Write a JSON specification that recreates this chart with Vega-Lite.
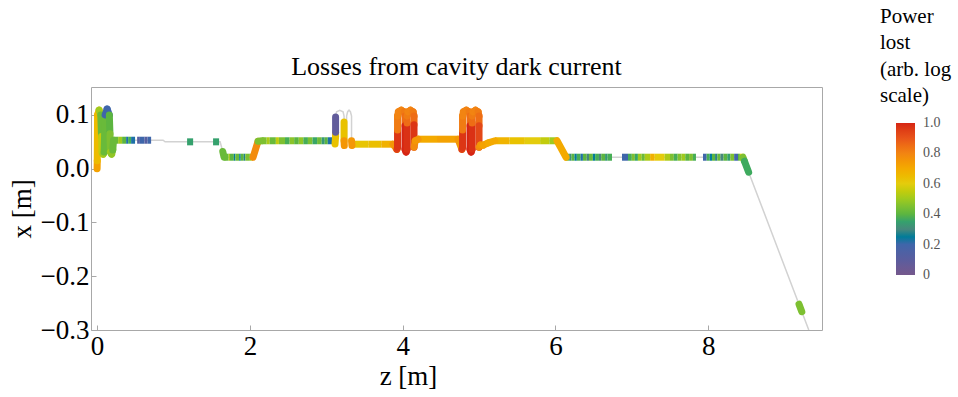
{
  "$schema": "https://vega.github.io/schema/vega-lite/v6.json",
  "width": 731,
  "height": 243,
  "autosize": "none",
  "padding": {"left": 91, "top": 87, "right": 136, "bottom": 67},
  "background": "white",
  "title": {"text": "Losses from cavity dark current", "frame": "group", "font": "Liberation Serif", "fontSize": 26, "fontWeight": "normal", "color": "black", "offset": 8, "dy": 82},
  "config": {"view": {"stroke": "#a8a8a8", "strokeWidth": 1}},
  "datasets": {
    "path": [
      {"i":0,"z":0.000,"x":0.000},{"i":1,"z":0.003,"x":0.060},{"i":2,"z":0.006,"x":0.100},{"i":3,"z":0.026,"x":0.109},
      {"i":4,"z":0.048,"x":0.100},{"i":5,"z":0.058,"x":0.060},{"i":6,"z":0.065,"x":0.031},{"i":7,"z":0.079,"x":0.027},
      {"i":8,"z":0.092,"x":0.031},{"i":9,"z":0.105,"x":0.100},{"i":10,"z":0.131,"x":0.111},{"i":11,"z":0.160,"x":0.100},
      {"i":12,"z":0.175,"x":0.031},{"i":13,"z":0.190,"x":0.027},{"i":14,"z":0.205,"x":0.035},{"i":15,"z":0.215,"x":0.053},
      {"i":16,"z":0.864,"x":0.053},{"i":17,"z":0.890,"x":0.050},{"i":18,"z":1.610,"x":0.050},{"i":19,"z":1.645,"x":0.032},
      {"i":20,"z":1.662,"x":0.0214},{"i":21,"z":2.042,"x":0.0214},{"i":22,"z":2.107,"x":0.051},{"i":23,"z":2.160,"x":0.052},
      {"i":24,"z":3.089,"x":0.052},{"i":25,"z":3.115,"x":0.048},{"i":26,"z":3.122,"x":0.060},{"i":27,"z":3.122,"x":0.098},
      {"i":28,"z":3.135,"x":0.106},{"i":29,"z":3.177,"x":0.1088},{"i":30,"z":3.220,"x":0.106},{"i":31,"z":3.233,"x":0.098},
      {"i":32,"z":3.233,"x":0.049},{"i":33,"z":3.250,"x":0.044},{"i":34,"z":3.266,"x":0.049},{"i":35,"z":3.266,"x":0.098},
      {"i":36,"z":3.280,"x":0.106},{"i":37,"z":3.298,"x":0.1088},{"i":38,"z":3.316,"x":0.106},{"i":39,"z":3.331,"x":0.098},
      {"i":40,"z":3.331,"x":0.049},{"i":41,"z":3.351,"x":0.0456},{"i":42,"z":3.874,"x":0.0456},
      {"i":43,"z":3.925,"x":0.036},{"i":44,"z":3.933,"x":0.040},{"i":45,"z":3.933,"x":0.098},{"i":46,"z":3.945,"x":0.106},
      {"i":47,"z":3.983,"x":0.1088},{"i":48,"z":4.020,"x":0.106},{"i":49,"z":4.031,"x":0.098},{"i":50,"z":4.031,"x":0.036},
      {"i":51,"z":4.045,"x":0.031},{"i":52,"z":4.058,"x":0.036},{"i":53,"z":4.058,"x":0.098},{"i":54,"z":4.070,"x":0.106},
      {"i":55,"z":4.103,"x":0.1088},{"i":56,"z":4.137,"x":0.106},{"i":57,"z":4.149,"x":0.098},{"i":58,"z":4.149,"x":0.040},
      {"i":59,"z":4.165,"x":0.052},{"i":60,"z":4.202,"x":0.0549},{"i":61,"z":4.725,"x":0.0549},
      {"i":62,"z":4.776,"x":0.036},{"i":63,"z":4.784,"x":0.040},{"i":64,"z":4.784,"x":0.098},{"i":65,"z":4.796,"x":0.106},
      {"i":66,"z":4.834,"x":0.1088},{"i":67,"z":4.871,"x":0.106},{"i":68,"z":4.882,"x":0.098},{"i":69,"z":4.882,"x":0.036},
      {"i":70,"z":4.896,"x":0.031},{"i":71,"z":4.909,"x":0.036},{"i":72,"z":4.909,"x":0.098},{"i":73,"z":4.921,"x":0.106},
      {"i":74,"z":4.954,"x":0.1088},{"i":75,"z":4.988,"x":0.106},{"i":76,"z":5.000,"x":0.098},{"i":77,"z":5.000,"x":0.040},
      {"i":78,"z":5.020,"x":0.044},{"i":79,"z":5.052,"x":0.0437},{"i":80,"z":5.120,"x":0.048},{"i":81,"z":5.209,"x":0.052},
      {"i":82,"z":6.021,"x":0.052},{"i":83,"z":6.139,"x":0.0214},{"i":84,"z":8.455,"x":0.0214},{"i":85,"z":9.317,"x":-0.300}
    ],
    "seg": [
      {"z":0.000,"x":0.000,"z2":0.002,"x2":0.015,"p":0.72},
      {"z":0.002,"x":0.015,"z2":0.006,"x2":0.100,"p":0.65},
      {"z":0.006,"x":0.100,"z2":0.026,"x2":0.109,"p":0.66},
      {"z":0.026,"x":0.109,"z2":0.048,"x2":0.100,"p":0.5},
      {"z":0.048,"x":0.100,"z2":0.058,"x2":0.060,"p":0.42},
      {"z":0.058,"x":0.060,"z2":0.065,"x2":0.031,"p":0.55},
      {"z":0.065,"x":0.031,"z2":0.079,"x2":0.027,"p":0.55},
      {"z":0.079,"x":0.027,"z2":0.092,"x2":0.031,"p":0.5},
      {"z":0.092,"x":0.031,"z2":0.105,"x2":0.100,"p":0.42},
      {"z":0.105,"x":0.100,"z2":0.131,"x2":0.111,"p":0.2},
      {"z":0.131,"x":0.111,"z2":0.160,"x2":0.100,"p":0.2},
      {"z":0.160,"x":0.100,"z2":0.168,"x2":0.065,"p":0.4},
      {"z":0.168,"x":0.065,"z2":0.175,"x2":0.031,"p":0.45},
      {"z":0.175,"x":0.031,"z2":0.190,"x2":0.027,"p":0.5},
      {"z":0.190,"x":0.027,"z2":0.205,"x2":0.035,"p":0.48},
      {"z":0.205,"x":0.035,"z2":0.215,"x2":0.053,"p":0.42},
      {"z":0.215,"x":0.053,"z2":0.275,"x2":0.053,"p":0.42},
      {"z":0.275,"x":0.053,"z2":0.327,"x2":0.053,"p":0.5},
      {"z":0.327,"x":0.053,"z2":0.380,"x2":0.053,"p":0.4},
      {"z":0.380,"x":0.053,"z2":0.406,"x2":0.053,"p":0.22},
      {"z":0.406,"x":0.053,"z2":0.445,"x2":0.053,"p":0.38},
      {"z":0.445,"x":0.053,"z2":0.497,"x2":0.053,"p":0.22},
      {"z":0.524,"x":0.053,"z2":0.560,"x2":0.053,"p":0.12},
      {"z":0.560,"x":0.053,"z2":0.620,"x2":0.053,"p":0.2},
      {"z":0.620,"x":0.053,"z2":0.660,"x2":0.053,"p":0.12},
      {"z":0.660,"x":0.053,"z2":0.707,"x2":0.053,"p":0.2},
      {"z":1.178,"x":0.050,"z2":1.257,"x2":0.050,"p":0.35},
      {"z":1.518,"x":0.050,"z2":1.597,"x2":0.050,"p":0.35},
      {"z":1.645,"x":0.032,"z2":1.662,"x2":0.0214,"p":0.42},
      {"z":1.662,"x":0.0214,"z2":1.720,"x2":0.0214,"p":0.42},
      {"z":1.720,"x":0.0214,"z2":1.740,"x2":0.0214,"p":0.5},
      {"z":1.740,"x":0.0214,"z2":1.790,"x2":0.0214,"p":0.4},
      {"z":1.790,"x":0.0214,"z2":1.810,"x2":0.0214,"p":0.25},
      {"z":1.810,"x":0.0214,"z2":1.860,"x2":0.0214,"p":0.42},
      {"z":1.860,"x":0.0214,"z2":1.880,"x2":0.0214,"p":0.25},
      {"z":1.880,"x":0.0214,"z2":1.920,"x2":0.0214,"p":0.4},
      {"z":1.920,"x":0.0214,"z2":1.940,"x2":0.0214,"p":0.27},
      {"z":1.940,"x":0.0214,"z2":2.000,"x2":0.0214,"p":0.45},
      {"z":2.000,"x":0.0214,"z2":2.025,"x2":0.0214,"p":0.5},
      {"z":2.025,"x":0.0214,"z2":2.042,"x2":0.0214,"p":0.75},
      {"z":2.042,"x":0.0214,"z2":2.107,"x2":0.051,"p":0.78},
      {"z":2.107,"x":0.051,"z2":2.160,"x2":0.052,"p":0.45},
      {"z":2.160,"x":0.052,"z2":2.220,"x2":0.052,"p":0.45},
      {"z":2.220,"x":0.052,"z2":2.260,"x2":0.052,"p":0.52},
      {"z":2.260,"x":0.052,"z2":2.340,"x2":0.052,"p":0.42},
      {"z":2.340,"x":0.052,"z2":2.380,"x2":0.052,"p":0.55},
      {"z":2.380,"x":0.052,"z2":2.460,"x2":0.052,"p":0.45},
      {"z":2.460,"x":0.052,"z2":2.520,"x2":0.052,"p":0.38},
      {"z":2.520,"x":0.052,"z2":2.580,"x2":0.052,"p":0.47},
      {"z":2.580,"x":0.052,"z2":2.640,"x2":0.052,"p":0.4},
      {"z":2.640,"x":0.052,"z2":2.700,"x2":0.052,"p":0.48},
      {"z":2.700,"x":0.052,"z2":2.760,"x2":0.052,"p":0.38},
      {"z":2.760,"x":0.052,"z2":2.820,"x2":0.052,"p":0.45},
      {"z":2.820,"x":0.052,"z2":2.880,"x2":0.052,"p":0.36},
      {"z":2.880,"x":0.052,"z2":2.940,"x2":0.052,"p":0.43},
      {"z":2.940,"x":0.052,"z2":2.980,"x2":0.052,"p":0.33},
      {"z":2.980,"x":0.052,"z2":3.020,"x2":0.052,"p":0.4},
      {"z":3.020,"x":0.052,"z2":3.089,"x2":0.052,"p":0.22},
      {"z":3.115,"x":0.046,"z2":3.122,"x2":0.060,"p":0.63},
      {"z":3.122,"x":0.060,"z2":3.122,"x2":0.068,"p":0.63},
      {"z":3.122,"x":0.068,"z2":3.122,"x2":0.096,"p":0.08},
      {"z":3.233,"x":0.087,"z2":3.233,"x2":0.052,"p":0.63},
      {"z":3.233,"x":0.052,"z2":3.236,"x2":0.043,"p":0.75},
      {"z":3.331,"x":0.052,"z2":3.336,"x2":0.043,"p":0.75},
      {"z":3.336,"x":0.0456,"z2":3.550,"x2":0.0456,"p":0.62},
      {"z":3.550,"x":0.0456,"z2":3.720,"x2":0.0456,"p":0.64},
      {"z":3.720,"x":0.0456,"z2":3.874,"x2":0.0456,"p":0.68},
      {"z":3.874,"x":0.0456,"z2":3.925,"x2":0.036,"p":0.75},
      {"z":3.925,"x":0.036,"z2":3.933,"x2":0.040,"p":0.95},
      {"z":3.933,"x":0.040,"z2":3.933,"x2":0.072,"p":0.97},
      {"z":3.933,"x":0.072,"z2":3.933,"x2":0.098,"p":0.82},
      {"z":3.933,"x":0.098,"z2":3.945,"x2":0.106,"p":0.8},
      {"z":3.945,"x":0.106,"z2":3.983,"x2":0.1088,"p":0.8},
      {"z":3.983,"x":0.1088,"z2":4.020,"x2":0.106,"p":0.8},
      {"z":4.020,"x":0.106,"z2":4.031,"x2":0.098,"p":0.82},
      {"z":4.031,"x":0.098,"z2":4.031,"x2":0.080,"p":0.85},
      {"z":4.031,"x":0.080,"z2":4.031,"x2":0.036,"p":1.0},
      {"z":4.031,"x":0.036,"z2":4.045,"x2":0.031,"p":1.0},
      {"z":4.045,"x":0.031,"z2":4.058,"x2":0.036,"p":1.0},
      {"z":4.058,"x":0.036,"z2":4.058,"x2":0.085,"p":0.98},
      {"z":4.058,"x":0.085,"z2":4.058,"x2":0.098,"p":0.85},
      {"z":4.058,"x":0.098,"z2":4.070,"x2":0.106,"p":0.82},
      {"z":4.070,"x":0.106,"z2":4.103,"x2":0.1088,"p":0.8},
      {"z":4.103,"x":0.1088,"z2":4.137,"x2":0.106,"p":0.8},
      {"z":4.137,"x":0.106,"z2":4.149,"x2":0.098,"p":0.82},
      {"z":4.149,"x":0.098,"z2":4.149,"x2":0.082,"p":0.85},
      {"z":4.149,"x":0.082,"z2":4.149,"x2":0.040,"p":0.97},
      {"z":4.149,"x":0.040,"z2":4.165,"x2":0.052,"p":0.78},
      {"z":4.165,"x":0.052,"z2":4.202,"x2":0.0549,"p":0.75},
      {"z":4.202,"x":0.0549,"z2":4.450,"x2":0.0549,"p":0.7},
      {"z":4.450,"x":0.0549,"z2":4.725,"x2":0.0549,"p":0.72},
      {"z":4.725,"x":0.0549,"z2":4.776,"x2":0.036,"p":0.75},
      {"z":4.776,"x":0.036,"z2":4.784,"x2":0.040,"p":0.95},
      {"z":4.784,"x":0.040,"z2":4.784,"x2":0.072,"p":0.97},
      {"z":4.784,"x":0.072,"z2":4.784,"x2":0.098,"p":0.82},
      {"z":4.784,"x":0.098,"z2":4.796,"x2":0.106,"p":0.8},
      {"z":4.796,"x":0.106,"z2":4.834,"x2":0.1088,"p":0.8},
      {"z":4.834,"x":0.1088,"z2":4.871,"x2":0.106,"p":0.8},
      {"z":4.871,"x":0.106,"z2":4.882,"x2":0.098,"p":0.82},
      {"z":4.882,"x":0.098,"z2":4.882,"x2":0.080,"p":0.85},
      {"z":4.882,"x":0.080,"z2":4.882,"x2":0.036,"p":1.0},
      {"z":4.882,"x":0.036,"z2":4.896,"x2":0.031,"p":1.0},
      {"z":4.896,"x":0.031,"z2":4.909,"x2":0.036,"p":1.0},
      {"z":4.909,"x":0.036,"z2":4.909,"x2":0.085,"p":0.98},
      {"z":4.909,"x":0.085,"z2":4.909,"x2":0.098,"p":0.85},
      {"z":4.909,"x":0.098,"z2":4.921,"x2":0.106,"p":0.82},
      {"z":4.921,"x":0.106,"z2":4.954,"x2":0.1088,"p":0.8},
      {"z":4.954,"x":0.1088,"z2":4.988,"x2":0.106,"p":0.8},
      {"z":4.988,"x":0.106,"z2":5.000,"x2":0.098,"p":0.82},
      {"z":5.000,"x":0.098,"z2":5.000,"x2":0.080,"p":0.85},
      {"z":5.000,"x":0.080,"z2":5.000,"x2":0.040,"p":0.93},
      {"z":5.000,"x":0.040,"z2":5.020,"x2":0.044,"p":0.78},
      {"z":5.020,"x":0.044,"z2":5.052,"x2":0.0437,"p":0.75},
      {"z":5.052,"x":0.0437,"z2":5.120,"x2":0.048,"p":0.72},
      {"z":5.120,"x":0.048,"z2":5.209,"x2":0.052,"p":0.7},
      {"z":5.209,"x":0.052,"z2":5.400,"x2":0.052,"p":0.67},
      {"z":5.400,"x":0.052,"z2":5.600,"x2":0.052,"p":0.63},
      {"z":5.600,"x":0.052,"z2":5.800,"x2":0.052,"p":0.6},
      {"z":5.800,"x":0.052,"z2":5.920,"x2":0.052,"p":0.55},
      {"z":5.920,"x":0.052,"z2":6.021,"x2":0.052,"p":0.5},
      {"z":6.021,"x":0.052,"z2":6.139,"x2":0.0214,"p":0.7},
      {"z":6.139,"x":0.0214,"z2":6.180,"x2":0.0214,"p":0.42},
      {"z":6.180,"x":0.0214,"z2":6.210,"x2":0.0214,"p":0.32},
      {"z":6.210,"x":0.0214,"z2":6.250,"x2":0.0214,"p":0.4},
      {"z":6.250,"x":0.0214,"z2":6.280,"x2":0.0214,"p":0.25},
      {"z":6.280,"x":0.0214,"z2":6.330,"x2":0.0214,"p":0.38},
      {"z":6.330,"x":0.0214,"z2":6.360,"x2":0.0214,"p":0.22},
      {"z":6.360,"x":0.0214,"z2":6.410,"x2":0.0214,"p":0.4},
      {"z":6.410,"x":0.0214,"z2":6.440,"x2":0.0214,"p":0.3},
      {"z":6.440,"x":0.0214,"z2":6.490,"x2":0.0214,"p":0.42},
      {"z":6.490,"x":0.0214,"z2":6.520,"x2":0.0214,"p":0.25},
      {"z":6.520,"x":0.0214,"z2":6.570,"x2":0.0214,"p":0.38},
      {"z":6.570,"x":0.0214,"z2":6.600,"x2":0.0214,"p":0.3},
      {"z":6.600,"x":0.0214,"z2":6.650,"x2":0.0214,"p":0.4},
      {"z":6.650,"x":0.0214,"z2":6.680,"x2":0.0214,"p":0.33},
      {"z":6.680,"x":0.0214,"z2":6.741,"x2":0.0214,"p":0.38},
      {"z":6.872,"x":0.0214,"z2":6.950,"x2":0.0214,"p":0.2},
      {"z":6.950,"x":0.0214,"z2":7.000,"x2":0.0214,"p":0.38},
      {"z":7.000,"x":0.0214,"z2":7.040,"x2":0.0214,"p":0.45},
      {"z":7.040,"x":0.0214,"z2":7.080,"x2":0.0214,"p":0.36},
      {"z":7.080,"x":0.0214,"z2":7.130,"x2":0.0214,"p":0.5},
      {"z":7.130,"x":0.0214,"z2":7.170,"x2":0.0214,"p":0.42},
      {"z":7.170,"x":0.0214,"z2":7.240,"x2":0.0214,"p":0.52},
      {"z":7.240,"x":0.0214,"z2":7.300,"x2":0.0214,"p":0.68},
      {"z":7.300,"x":0.0214,"z2":7.430,"x2":0.0214,"p":0.6},
      {"z":7.430,"x":0.0214,"z2":7.500,"x2":0.0214,"p":0.52},
      {"z":7.500,"x":0.0214,"z2":7.550,"x2":0.0214,"p":0.45},
      {"z":7.550,"x":0.0214,"z2":7.600,"x2":0.0214,"p":0.38},
      {"z":7.600,"x":0.0214,"z2":7.650,"x2":0.0214,"p":0.46},
      {"z":7.650,"x":0.0214,"z2":7.700,"x2":0.0214,"p":0.5},
      {"z":7.700,"x":0.0214,"z2":7.750,"x2":0.0214,"p":0.4},
      {"z":7.750,"x":0.0214,"z2":7.800,"x2":0.0214,"p":0.45},
      {"z":7.800,"x":0.0214,"z2":7.840,"x2":0.0214,"p":0.38},
      {"z":7.932,"x":0.0214,"z2":7.980,"x2":0.0214,"p":0.2},
      {"z":7.980,"x":0.0214,"z2":8.020,"x2":0.0214,"p":0.38},
      {"z":8.020,"x":0.0214,"z2":8.050,"x2":0.0214,"p":0.25},
      {"z":8.050,"x":0.0214,"z2":8.090,"x2":0.0214,"p":0.4},
      {"z":8.090,"x":0.0214,"z2":8.120,"x2":0.0214,"p":0.28},
      {"z":8.120,"x":0.0214,"z2":8.160,"x2":0.0214,"p":0.42},
      {"z":8.160,"x":0.0214,"z2":8.200,"x2":0.0214,"p":0.3},
      {"z":8.200,"x":0.0214,"z2":8.250,"x2":0.0214,"p":0.4},
      {"z":8.250,"x":0.0214,"z2":8.290,"x2":0.0214,"p":0.35},
      {"z":8.290,"x":0.0214,"z2":8.340,"x2":0.0214,"p":0.45},
      {"z":8.340,"x":0.0214,"z2":8.390,"x2":0.0214,"p":0.2},
      {"z":8.390,"x":0.0214,"z2":8.415,"x2":0.0214,"p":0.4},
      {"z":8.415,"x":0.0214,"z2":8.455,"x2":0.0214,"p":0.6},
      {"z":8.455,"x":0.0214,"z2":8.475,"x2":0.0140,"p":0.45},
      {"z":8.475,"x":0.0140,"z2":8.530,"x2":-0.0065,"p":0.37},
      {"z":9.189,"x":-0.252,"z2":9.226,"x2":-0.266,"p":0.45}
    ]
  },
  "encoding": {
    "x": {"field": "z", "type": "quantitative",
      "scale": {"domain": [-0.08, 9.49], "nice": false, "zero": false},
      "axis": {"title": "z [m]", "values": [0, 2, 4, 6, 8], "format": "d", "grid": false, "domain": false,
        "labelFont": "Liberation Serif", "labelFontSize": 27, "labelColor": "black", "labelPadding": 8,
        "tickColor": "#a8a8a8", "tickSize": -5,
        "titleFont": "Liberation Serif", "titleFontSize": 27, "titleFontWeight": "normal", "titleColor": "black",
        "titleX": 317, "titlePadding": 4}},
    "y": {"field": "x", "type": "quantitative",
      "scale": {"domain": [-0.3, 0.152], "nice": false, "zero": false},
      "axis": {"title": "x [m]", "values": [-0.3, -0.2, -0.1, 0, 0.1], "format": ".1f", "grid": false, "domain": false,
        "labelFont": "Liberation Serif", "labelFontSize": 27, "labelColor": "black", "labelPadding": 7,
        "tickColor": "#a8a8a8", "tickSize": -5,
        "titleFont": "Liberation Serif", "titleFontSize": 27, "titleFontWeight": "normal", "titleColor": "black",
        "titlePadding": 4}}
  },
  "layer": [
    {
      "data": {"name": "path"},
      "mark": {"type": "line", "color": "#d2d2d2", "strokeWidth": 1.5, "clip": true},
      "encoding": {"order": {"field": "i", "type": "quantitative"}}
    },
    {
      "data": {"name": "seg"},
      "transform": [{"filter": "datum.x == datum.x2"}],
      "mark": {"type": "rule", "strokeWidth": 7, "strokeCap": "butt", "clip": true},
      "encoding": {
        "x2": {"field": "z2"},
        "y2": {"field": "x2"},
        "color": {"field": "p", "type": "quantitative",
          "scale": {"domain": [0, 0.1, 0.2, 0.3, 0.4, 0.5, 0.6, 0.7, 0.8, 0.9, 1.0],
            "range": ["#74588c", "#5a5d9e", "#3f66aa", "#46887c", "#5cb540", "#9fca1e", "#e4cc0c", "#f4aa00", "#f28412", "#e8541a", "#d62514"]},
          "legend": {"orient": "none", "legendX": 789, "legendY": -81, "padding": 0,
            "title": ["Power", "lost", "(arb. log", "scale)"],
            "titleFont": "Liberation Serif", "titleFontSize": 21, "titleFontWeight": "normal", "titleColor": "black",
            "titleLineHeight": 26.3, "titlePadding": 17, "titleAnchor": "start", "titleAlign": "left",
            "gradientLength": 152, "gradientThickness": 19, "gradientStrokeWidth": 0,
            "values": [0, 0.2, 0.4, 0.6, 0.8, 1.0],
            "labelExpr": "datum.value == 0 ? '0' : format(datum.value, '.1f')",
            "labelFont": "Liberation Serif", "labelFontSize": 14, "labelColor": "#555555", "labelOffset": 8,
            "encode": {"gradient": {"update": {"x": {"value": 16}}}, "labels": {"update": {"x": {"value": 43}, "baseline": {"value": "middle"}}}}}
        }
      }
    },
    {
      "data": {"name": "seg"},
      "transform": [{"filter": "datum.x != datum.x2"}],
      "mark": {"type": "rule", "strokeWidth": 7, "strokeCap": "round", "clip": true},
      "encoding": {
        "x2": {"field": "z2"},
        "y2": {"field": "x2"},
        "color": {"field": "p", "type": "quantitative"}
      }
    }
  ]
}
